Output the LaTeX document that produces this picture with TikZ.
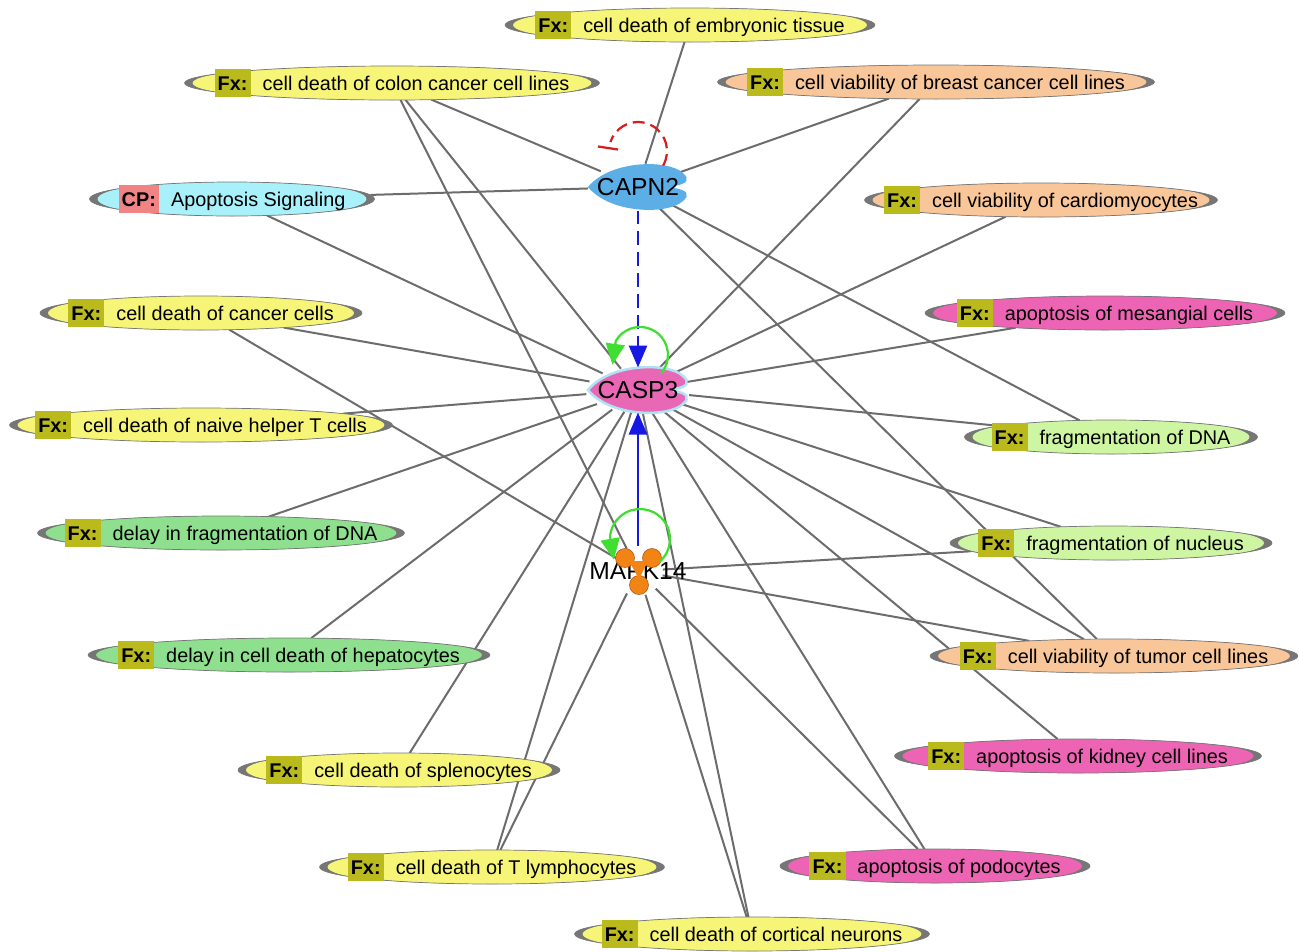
\documentclass[tikz,border=0pt]{standalone}
\usepackage{fontspec}
\setmainfont{Liberation Sans}
\usetikzlibrary{shapes.geometric,arrows.meta,calc}

\definecolor{linegray}{RGB}{108,108,108}
\definecolor{rimgray}{RGB}{118,118,118}
\definecolor{fxolive}{RGB}{186,186,28}
\definecolor{cpsalmon}{RGB}{240,132,132}
\definecolor{fxyellow}{RGB}{246,245,120}
\definecolor{fxpeach}{RGB}{248,198,152}
\definecolor{fxpink}{RGB}{238,100,180}
\definecolor{fxlime}{RGB}{206,246,162}
\definecolor{fxgreen}{RGB}{142,224,142}
\definecolor{cpcyan}{RGB}{168,240,250}
\definecolor{capnblue}{RGB}{92,174,230}
\definecolor{caspmag}{RGB}{232,104,182}
\definecolor{caspglow}{RGB}{176,226,246}
\definecolor{mapkorange}{RGB}{242,132,22}
\definecolor{mapkrim}{RGB}{170,84,10}
\definecolor{actblue}{RGB}{24,24,228}
\definecolor{loopgreen}{RGB}{64,222,48}
\definecolor{inhred}{RGB}{214,30,30}

\pgfdeclarelayer{background}
\pgfsetlayers{background,main}

\setlength{\fboxsep}{1.8pt}
\newcommand{\fxtag}{\colorbox{fxolive}{\rule[-2pt]{0pt}{12.6pt}\textbf{Fx:}}\hspace{6.8pt}}
\newcommand{\cptag}{\colorbox{cpsalmon}{\rule[-2pt]{0pt}{12.6pt}\textbf{CP:}}\hspace{6.8pt}}

\tikzset{
  fxnode/.style 2 args={ellipse, fill=rimgray, draw=rimgray, line width=0.4pt,
    minimum width=#2, minimum height=0.68cm, inner sep=-3cm, outer sep=0pt,
    font=\fontsize{11.3}{13}\selectfont,
    path picture={\fill[#1] let \p1=(path picture bounding box.north east),
        \p2=(path picture bounding box.center) in
        (\p2) ellipse [x radius={\x1-\x2-0.16cm}, y radius={\y1-\y2+0.04cm}];}},
  hub/.style={ellipse, inner sep=-2cm, outer sep=0pt, font=\fontsize{14}{16}\selectfont},
  link/.style={draw=linegray, line width=0.04cm},
  actarrow/.style={actblue, line width=0.055cm, -{Triangle[length=0.44cm, width=0.36cm]}},
  actloop/.style={loopgreen, line width=0.045cm, -{Triangle[length=0.42cm, width=0.38cm]}},
  inhloop/.style={inhred, line width=0.045cm, dash pattern=on 0.24cm off 0.12cm},
  peptidase/.pic={\path[pic actions] (-50,0) .. controls (-28,27) and (30,28) .. (45,14)
      .. controls (52,8) and (50,3) .. (36,1) -- (36,-1)
      .. controls (50,-3) and (52,-8) .. (45,-14)
      .. controls (30,-28) and (-28,-27) .. cycle;}
}

\begin{document}
\begin{tikzpicture}[x=0.02cm, y=0.02cm]
\useasboundingbox (0,0) rectangle (1299,-951);

% hub molecules
\pic[fill=capnblue] at (638,-187) {peptidase};
\pic[fill=caspmag, draw=caspglow, line width=0.05cm] at (638,-390) {peptidase};
\node[hub, minimum width=2cm, minimum height=0.94cm] (capn) at (638,-187) {CAPN2};
\node[hub, minimum width=2.1cm, minimum height=0.9cm] (casp) at (638,-390) {CASP3};
\node[hub, minimum size=1cm] (mapk) at (638,-571) {MAPK14};
\begin{scope}[shift={(mapk)}]
  \filldraw[fill=mapkorange, draw=mapkrim, line width=0.3pt]
    (-13,13) circle[radius=9.5] (14,13) circle[radius=9.5] (1,-14) circle[radius=9.5];
  \fill[mapkorange] (-9,10) -- (10,10) -- (1,-8) -- cycle;
\end{scope}

% functions
\node[fxnode={fxyellow}{7.4cm}] (embryo) at (690,-25) {\fxtag cell death of embryonic tissue};
\node[fxnode={fxyellow}{8.3cm}] (colon) at (392,-83) {\fxtag cell death of colon cancer cell lines};
\node[fxnode={fxpeach}{8.74cm}] (breast) at (936,-82) {\fxtag cell viability of breast cancer cell lines};
\node[fxnode={cpcyan}{5.7cm}] (apsig) at (232,-199) {\cptag Apoptosis Signaling};
\node[fxnode={fxpeach}{7.06cm}] (cardio) at (1041,-200) {\fxtag cell viability of cardiomyocytes};
\node[fxnode={fxyellow}{6.44cm}] (cancer) at (201,-313) {\fxtag cell death of cancer cells};
\node[fxnode={fxpink}{7.2cm}] (mesang) at (1105,-313) {\fxtag apoptosis of mesangial cells};
\node[fxnode={fxyellow}{7.66cm}] (naive) at (201,-425) {\fxtag cell death of naive helper T cells};
\node[fxnode={fxlime}{5.86cm}] (fragdna) at (1111,-437) {\fxtag fragmentation of DNA};
\node[fxnode={fxgreen}{7.34cm}] (delaydna) at (221,-533) {\fxtag delay in fragmentation of DNA};
\node[fxnode={fxlime}{6.44cm}] (nucleus) at (1111,-543) {\fxtag fragmentation of nucleus};
\node[fxnode={fxgreen}{8.04cm}] (hepato) at (289,-655) {\fxtag delay in cell death of hepatocytes};
\node[fxnode={fxpeach}{7.36cm}] (tumor) at (1114,-656) {\fxtag cell viability of tumor cell lines};
\node[fxnode={fxyellow}{6.44cm}] (spleno) at (399,-770) {\fxtag cell death of splenocytes};
\node[fxnode={fxpink}{7.34cm}] (kidney) at (1078,-756) {\fxtag apoptosis of kidney cell lines};
\node[fxnode={fxyellow}{6.9cm}] (tlymph) at (492,-867) {\fxtag cell death of T lymphocytes};
\node[fxnode={fxpink}{6.2cm}] (podo) at (935,-866) {\fxtag apoptosis of podocytes};
\node[fxnode={fxyellow}{7.1cm}] (cortical) at (752,-934) {\fxtag cell death of cortical neurons};

% relations
\begin{pgfonlayer}{background}
\foreach \f in {embryo,colon,breast,apsig,fragdna,tumor}
  \draw[link] (\f) -- (capn);
\foreach \f in {colon,breast,apsig,cardio,cancer,mesang,naive,fragdna,delaydna,nucleus,hepato,tumor,spleno,kidney,tlymph,podo,cortical}
  \draw[link] (\f) -- (casp);
\foreach \f in {colon,cancer,nucleus,tumor,tlymph,podo,cortical}
  \draw[link] (\f) -- (mapk);
\end{pgfonlayer}

\draw[actarrow, dash pattern=on 0.28cm off 0.14cm] (capn) -- (casp);
\draw[actarrow] (mapk) -- (casp);

% self loops
\begin{scope}[shift={(capn)}]
  \draw[inhloop] ([shift={(-30:29)}]0,36) arc[start angle=-30, end angle=162, radius=29];
  \draw[inhred, line width=0.045cm] (-40,40.5) -- (-20,37.5);
\end{scope}
\begin{scope}[shift={(casp)}]
  \draw[actloop] ([shift={(-40:28)}]2,35) arc[start angle=-40, end angle=150, radius=28] -- ++(262:24);
\end{scope}
\begin{scope}[shift={(mapk)}]
  \draw[actloop] ([shift={(-50:30)}]2,32) arc[start angle=-50, end angle=178, radius=30] -- ++(280:22);
\end{scope}
\end{tikzpicture}
\end{document}
